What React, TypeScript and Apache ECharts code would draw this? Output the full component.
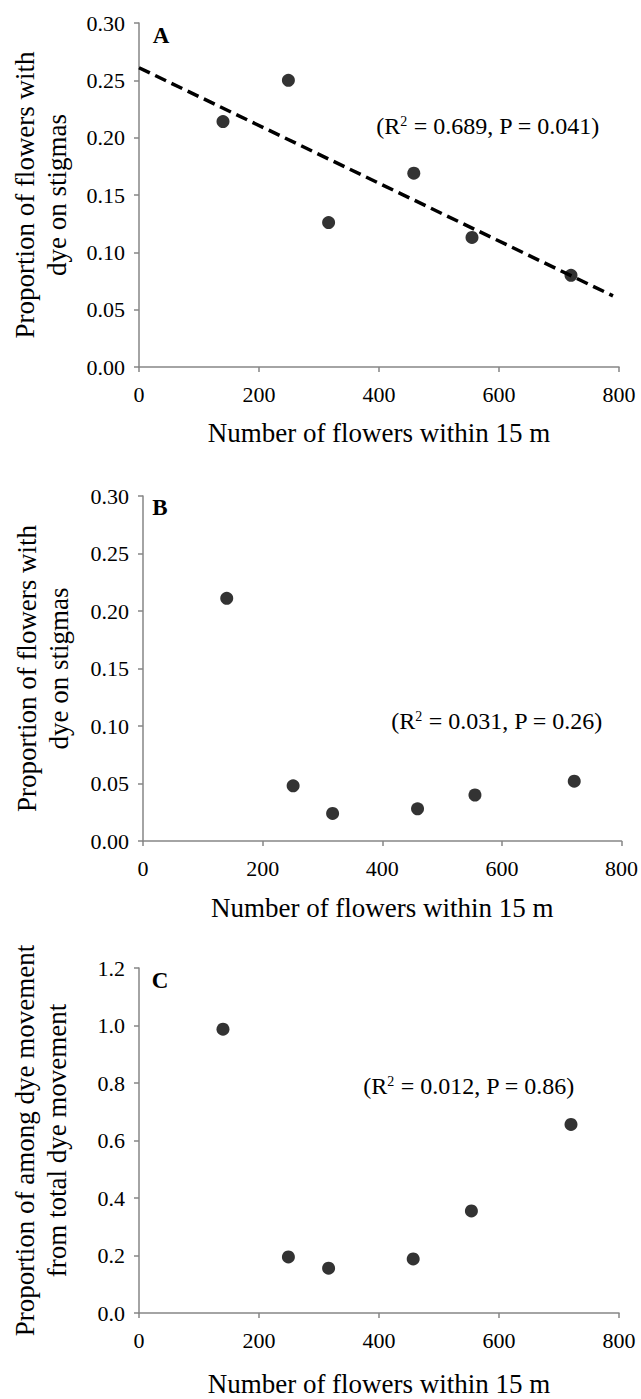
import React, { useEffect, useRef } from "react";
import * as echarts from "echarts";

const xTickValues = [0, 200, 400, 600, 800];
const flowersA = [140, 249, 316, 458, 555, 720];
const dyeA = [0.214, 0.25, 0.126, 0.169, 0.113, 0.08];
const trendAX = [0, 790];
const trendAY = [0.261, 0.062];
const flowersB = [140, 251, 317, 459, 555, 721];
const dyeB = [0.211, 0.048, 0.024, 0.028, 0.04, 0.052];
const flowersC = [140, 249, 316, 457, 554, 720];
const amongC = [0.987, 0.195, 0.156, 0.188, 0.355, 0.656];
const statsA = ["0.689", "0.041"];
const statsB = ["0.031", "0.26"];
const statsC = ["0.012", "0.86"];
const xTitle = "Number of flowers within 15 m";
const yTitleAB = "Proportion of flowers with\ndye on stigmas";
const yTitleC = "Proportion of among dye movement\nfrom total dye movement";

const FONT = "Liberation Serif";

export default function App() {
  const ref = useRef<HTMLDivElement>(null);
  useEffect(() => {
    if (!ref.current) return;
    const chart = echarts.init(ref.current, undefined, { renderer: "svg" });
    const grids = [
      { left: 139, top: 23, width: 480, height: 344 },
      { left: 143, top: 496, width: 480, height: 345 },
      { left: 139, top: 968, width: 480, height: 345 },
    ];
    const axisLine = { lineStyle: { color: "#868686", width: 1.5 } };
    const tickRich = { t: { fontSize: 22, fontFamily: FONT, color: "#000", fontWeight: "normal" } };
    const labelStyle = { fontSize: 22, color: "#000", fontFamily: FONT, fontWeight: "normal", rich: tickRich };
    const mkX = (i: number, gap: number) => ({
      type: "value",
      gridIndex: i,
      min: 0,
      max: 800,
      interval: 200,
      axisLine: { show: true, ...axisLine },
      axisTick: { show: true, inside: false, length: 5, lineStyle: { color: "#868686", width: 1.5 } },
      axisLabel: { margin: 16, ...labelStyle, formatter: (v: number) => (xTickValues.includes(v) ? `{t|${v}}` : "") },
      splitLine: { show: false },
      name: xTitle,
      nameLocation: "middle",
      nameGap: gap,
      nameTextStyle: { fontSize: 27, color: "#000", fontFamily: FONT, verticalAlign: "middle" },
    });
    const mkY = (i: number, max: number, interval: number, dec: number, name: string, gap: number) => ({
      type: "value",
      gridIndex: i,
      min: 0,
      max,
      interval,
      axisLine: { show: true, ...axisLine },
      axisTick: { show: true, inside: false, length: 5, lineStyle: { color: "#868686", width: 1.5 } },
      axisLabel: { margin: 14, ...labelStyle, formatter: (v: number) => `{t|${v.toFixed(dec)}}` },
      splitLine: { show: false },
      name,
      nameLocation: "middle",
      nameRotate: 90,
      nameGap: gap,
      nameTextStyle: { fontSize: 27, color: "#000", fontFamily: FONT, lineHeight: 32, verticalAlign: "middle", align: "center" },
    });
    const dot = { symbol: "circle", symbolSize: 13, itemStyle: { color: "#000" } };
    const ann = (s: string[]) => `(R{sup|2} = ${s[0]}, P = ${s[1]})`;
    const annStyle = (x: number, y: number, s: string[]) => ({
      type: "text",
      x,
      y,
      style: {
        text: ann(s),
        fontSize: 24,
        fontFamily: FONT,
        fill: "#000",
        align: "center",
        verticalAlign: "middle",
        rich: {
          sup: { fontSize: 14, fontFamily: FONT, fill: "#000", verticalAlign: "top", lineHeight: 14 },
        },
      },
    });
    const letter = (x: number, y: number, t: string) => ({
      type: "text",
      x,
      y,
      style: { text: t, fontSize: 23, fontWeight: "bold", fontFamily: FONT, fill: "#000", align: "center", verticalAlign: "middle" },
    });
    chart.setOption({
      animation: false,
      backgroundColor: "#fff",
      textStyle: { fontFamily: FONT, color: "#000" },
      grid: grids,
      xAxis: [mkX(0, 66), mkX(1, 67), mkX(2, 71)],
      yAxis: [
        mkY(0, 0.3, 0.05, 2, yTitleAB, 98),
        mkY(1, 0.3, 0.05, 2, yTitleAB, 100),
        mkY(2, 1.2, 0.2, 1, yTitleC, 98),
      ],
      series: [
        {
          type: "line",
          xAxisIndex: 0,
          yAxisIndex: 0,
          data: trendAX.map((x, i) => [x, trendAY[i]]),
          symbol: "none",
          lineStyle: { color: "#000", width: 3.5, type: [12, 6] },
          z: 1,
        },
        { type: "scatter", xAxisIndex: 0, yAxisIndex: 0, data: flowersA.map((x, i) => [x, dyeA[i]]), ...dot, z: 3 },
        { type: "scatter", xAxisIndex: 1, yAxisIndex: 1, data: flowersB.map((x, i) => [x, dyeB[i]]), ...dot },
        { type: "scatter", xAxisIndex: 2, yAxisIndex: 2, data: flowersC.map((x, i) => [x, amongC[i]]), ...dot },
      ],
      graphic: [
        letter(161, 35, "A"),
        letter(160, 507, "B"),
        letter(160, 980, "C"),
        annStyle(488, 126, statsA),
        annStyle(497, 721, statsB),
        annStyle(469, 1086, statsC),
      ],
    });
    return () => chart.dispose();
  }, []);
  return <div ref={ref} style={{ position: "absolute", left: 0, top: 0, width: 641, height: 1399 }} />;
}
